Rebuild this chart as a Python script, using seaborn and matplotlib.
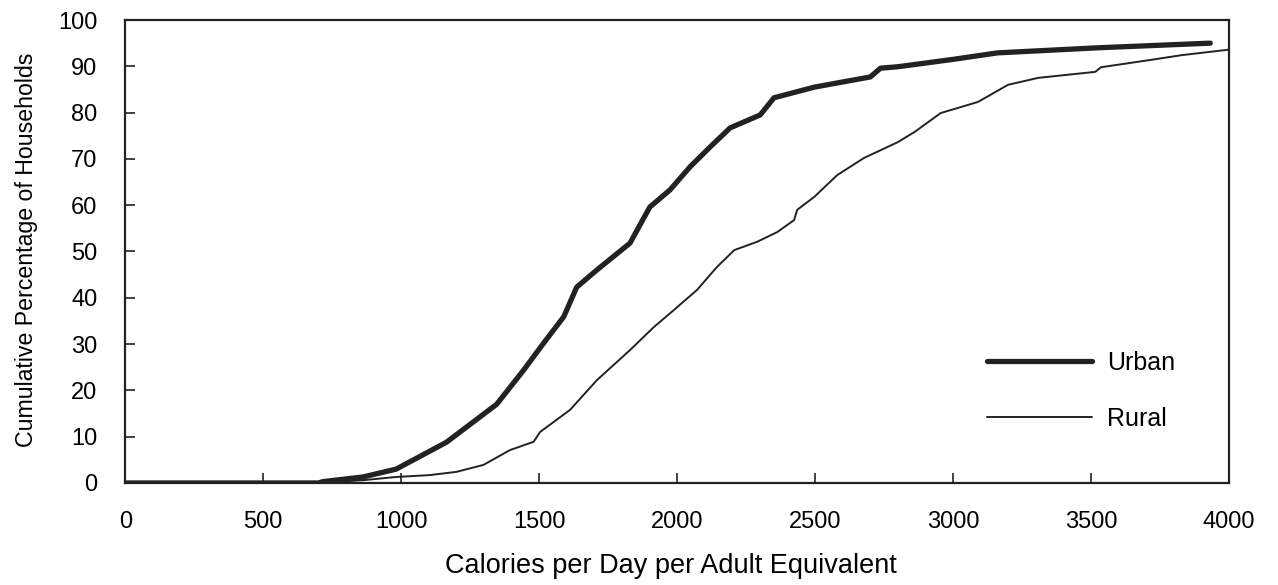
import numpy as np
import pandas as pd
import seaborn as sns
import matplotlib
matplotlib.use("Agg")
from matplotlib import pyplot as plt

# values
urban_kcal = [0, 700, 717, 862, 982, 1164, 1346, 1444, 1516, 1589, 1636, 1709, 1829,
              1901, 1974, 2047, 2120, 2192, 2301, 2351, 2497, 2700, 2737, 2799,
              3000, 3161, 3525, 3932]
urban_pct = [0, 0, 0.3, 1.3, 3.0, 8.8, 17.0, 24.4, 30.2, 35.9, 42.3, 46.0, 51.8,
             59.6, 63.3, 68.3, 72.6, 76.7, 79.5, 83.2, 85.5, 87.7, 89.6, 89.9,
             91.5, 92.9, 94.0, 95.0]

rural_kcal = [0, 700, 862, 982, 1103, 1200, 1298, 1394, 1480, 1503, 1612, 1709, 1829,
              1916, 1989, 2072, 2145, 2207, 2290, 2363, 2424, 2435, 2497, 2580,
              2677, 2799, 2860, 2955, 3090, 3199, 3308, 3515, 3536, 3718, 3827, 4000]
rural_pct = [0, 0, 0.6, 1.3, 1.7, 2.4, 3.9, 7.1, 8.9, 11.0, 15.8, 22.2, 28.7,
             33.7, 37.4, 41.7, 46.7, 50.3, 52.1, 54.2, 56.8, 59.0, 61.8, 66.5,
             70.2, 73.6, 75.8, 79.9, 82.3, 86.0, 87.5, 88.8, 89.8, 91.4, 92.4, 93.6]

x_ticks = [0, 500, 1000, 1500, 2000, 2500, 3000, 3500, 4000]
y_ticks = [0, 10, 20, 30, 40, 50, 60, 70, 80, 90, 100]

urban = pd.DataFrame({'kcal': urban_kcal, 'pct': urban_pct})
rural = pd.DataFrame({'kcal': rural_kcal, 'pct': rural_pct})

sns.set_style("ticks")
plt.rcParams['font.family'] = ['Liberation Sans', 'DejaVu Sans']
plt.rcParams['text.color'] = 'black'
plt.rcParams['axes.labelcolor'] = 'black'

fig = plt.figure(figsize=(12.78, 5.85), dpi=100)
ax = fig.add_axes([0.098, 0.1744, 0.8637, 0.7914])

ink = '#222222'
sns.lineplot(data=urban, x='kcal', y='pct', ax=ax, color=ink, linewidth=3.8, label='Urban')
sns.lineplot(data=rural, x='kcal', y='pct', ax=ax, color=ink, linewidth=1.4, label='Rural')

ax.set_xlim(0, 4000)
ax.set_ylim(0, 100)
ax.set_xticks(x_ticks)
ax.set_yticks(y_ticks)
ax.tick_params(axis='both', direction='in', length=7, width=1.2, colors=ink,
               labelsize=17, labelcolor='black')
ax.tick_params(axis='x', pad=20)
ax.tick_params(axis='y', pad=20)
for s in ax.spines.values():
    s.set_visible(True)
    s.set_linewidth(1.6)
    s.set_color(ink)

ax.set_xlabel('Calories per Day per Adult Equivalent', fontsize=19.5)
ax.xaxis.set_label_coords(0.4946, -0.151)
ax.set_ylabel('Cumulative Percentage of Households', fontsize=16.7)
ax.yaxis.set_label_coords(-0.0788, 0.503)

ax.legend(loc='center left', frameon=False, fontsize=18, handlelength=4.2,
          labelspacing=1.3, handletextpad=0.6, borderpad=0, borderaxespad=0,
          bbox_to_anchor=(0.781, 0.199))

fig.savefig('out.png', dpi=100)
